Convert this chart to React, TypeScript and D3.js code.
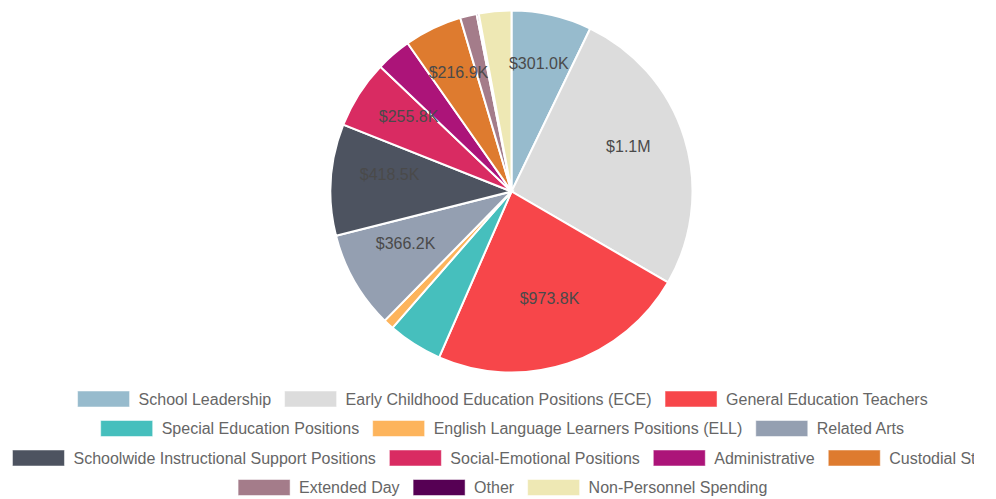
import React, { useMemo } from "react";
import * as d3 from "d3";

const categories = [
  "School Leadership",
  "Early Childhood Education Positions (ECE)",
  "General Education Teachers",
  "Special Education Positions",
  "English Language Learners Positions (ELL)",
  "Related Arts",
  "Schoolwide Instructional Support Positions",
  "Social-Emotional Positions",
  "Administrative",
  "Custodial Staff",
  "Extended Day",
  "Other",
  "Non-Personnel Spending",
];

const values = [
  301000, 1102000, 973800, 205000, 39000, 366200, 418500, 255800, 133000,
  216900, 62000, 8000, 122000,
];

const colors = [
  "#97BBCD", "#DCDCDC", "#F7464A", "#46BFBD", "#FDB45C", "#949FB1",
  "#4D5360", "#D92B62", "#AC1479", "#DE7B2F", "#A47C8A", "#560054", "#EEE8B4",
];

const W = 996;
const H = 499;
const CX = 511.5;
const CY = 191.5;
const R = 181;
const CLIP_W = 974;
const FONT = "16px Arial, 'Liberation Sans', Helvetica, sans-serif";

function fmt(v: number): string {
  if (v >= 1e6) return "$" + (v / 1e6).toFixed(1) + "M";
  return "$" + (v / 1e3).toFixed(1) + "K";
}

function measure(text: string): number {
  const c = document.createElement("canvas").getContext("2d");
  if (!c) return text.length * 8;
  c.font = FONT;
  return c.measureText(text).width;
}

export default function App() {
  const total = d3.sum(values);
  const pie = d3
    .pie<number>()
    .sort(null)
    .value((d) => d)
    .startAngle(0)
    .endAngle(2 * Math.PI);
  const arcs = pie(values);
  const arc = d3.arc<d3.PieArcDatum<number>>().innerRadius(0).outerRadius(R);
  const labelR = R * 0.675;

  const legend = useMemo(() => {
    const boxW = 52;
    const boxText = 9;
    const gap = 13.5;
    const maxW = CX * 2;
    const items = categories.map((c, i) => ({
      name: c,
      color: colors[i],
      w: boxW + boxText + measure(c) + gap,
    }));
    const rows: { name: string; color: string; w: number }[][] = [];
    let cur: typeof items = [];
    let curW = 0;
    items.forEach((it) => {
      if (cur.length && curW + it.w > maxW) {
        rows.push(cur);
        cur = [];
        curW = 0;
      }
      cur.push(it);
      curW += it.w;
    });
    if (cur.length) rows.push(cur);
    const out: { name: string; color: string; x: number; y: number }[] = [];
    rows.forEach((row, ri) => {
      const rw = d3.sum(row, (r) => r.w);
      let x = CX - rw / 2 - 2;
      const y = 399 + ri * 29.5;
      row.forEach((it) => {
        out.push({ name: it.name, color: it.color, x, y });
        x += it.w;
      });
    });
    return { out, boxW, boxText };
  }, []);

  return (
    <svg
      width={W}
      height={H}
      style={{ position: "absolute", left: 0, top: 0, overflow: "hidden" }}
      fontFamily="Arial, 'Liberation Sans', Helvetica, sans-serif"
    >
      <defs>
        <clipPath id="legendClip">
          <rect x={0} y={0} width={CLIP_W} height={H} />
        </clipPath>
      </defs>
      <rect width={W} height={H} fill="#fff" />
      <g transform={`translate(${CX},${CY})`}>
        {arcs.map((a, i) => (
          <path
            key={i}
            d={arc(a) || ""}
            fill={colors[i]}
            stroke="#fff"
            strokeWidth={2}
          />
        ))}
        {arcs.map((a, i) => {
          if (a.data / total < 0.05) return null;
          const mid = (a.startAngle + a.endAngle) / 2;
          const x = Math.sin(mid) * labelR;
          const y = -Math.cos(mid) * labelR - 9;
          return (
            <text
              key={"l" + i}
              x={x}
              y={y}
              textAnchor="middle"
              dominantBaseline="central"
              fontSize={16}
              fill="#4a4a4a"
            >
              {fmt(a.data)}
            </text>
          );
        })}
      </g>
      <g clipPath="url(#legendClip)">
        {legend.out.map((it, i) => (
          <g key={"g" + i}>
            <rect
              x={it.x}
              y={it.y - 8}
              width={legend.boxW}
              height={16}
              fill={it.color}
              stroke="#fff"
              strokeOpacity={0.5}
              strokeWidth={1}
            />
            <text
              x={it.x + legend.boxW + legend.boxText}
              y={it.y}
              dominantBaseline="central"
              fontSize={16}
              fill="#666"
            >
              {it.name}
            </text>
          </g>
        ))}
      </g>
    </svg>
  );
}
